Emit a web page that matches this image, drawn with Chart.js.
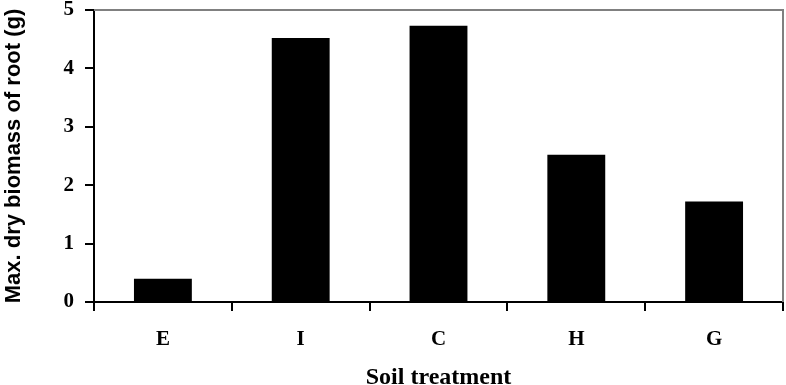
<!DOCTYPE html>
<html><head><meta charset="utf-8">
<script src="https://cdn.jsdelivr.net/npm/chart.js@4/dist/chart.umd.min.js"></script>
<style>html,body{margin:0;padding:0;background:#fff}#wrap{width:786px;height:385px}</style>
</head><body><div id="wrap"><canvas id="c" width="786" height="385"></canvas></div>
<script>
const categories = ['E', 'I', 'C', 'H', 'G'];
const biomass = [0.40, 4.52, 4.73, 2.52, 1.72];
const yTicks = [0, 1, 2, 3, 4, 5];

const frame = {
  id: 'frame',
  afterDraw(chart) {
    const {ctx, chartArea: a} = chart;
    ctx.save();
    ctx.strokeStyle = '#808080';
    ctx.lineWidth = 2;
    ctx.beginPath();
    ctx.moveTo(a.left, a.top);
    ctx.lineTo(a.right, a.top);
    ctx.lineTo(a.right, a.bottom);
    ctx.stroke();
    ctx.restore();
  }
};

new Chart(document.getElementById('c'), {
  type: 'bar',
  data: { labels: categories, datasets: [{ data: biomass, backgroundColor: '#000', borderWidth: 0 }] },
  options: {
    responsive: false, animation: false,
    layout: { padding: { left: 0, top: 10, right: 3, bottom: 0 } },
    plugins: { legend: { display: false }, tooltip: { enabled: false } },
    datasets: { bar: { categoryPercentage: 1, barPercentage: 0.42 } },
    scales: {
      x: {
        grid: { drawOnChartArea: false, drawTicks: true, tickLength: 9, color: '#000', lineWidth: 2, offset: true },
        border: { color: '#000', width: 2 },
        ticks: { color: '#000', padding: 16, font: { family: 'Liberation Serif', weight: 'bold', size: 21 } },
        title: { display: true, text: 'Soil treatment', color: '#000', padding: { top: 0, bottom: -7 },
                 font: { family: 'Liberation Serif', weight: 'bold', size: 24 } },
        afterFit(s) { s.height = 83; s.paddingLeft = 0; s.paddingRight = 0; }
      },
      y: {
        min: 0, max: 5,
        afterBuildTicks(s) { s.ticks = yTicks.map(v => ({ value: v })); },
        grid: { drawOnChartArea: false, drawTicks: true, tickLength: 9, color: '#000', lineWidth: 2 },
        border: { color: '#000', width: 2 },
        ticks: { color: '#000', padding: 11, font: { family: 'Liberation Serif', weight: 'bold', size: 21 } },
        title: { display: true, text: 'Max. dry biomass of root (g)', color: '#000', padding: { top: 1, bottom: 0 },
                 font: { family: 'Liberation Sans', weight: 'bold', size: 22 } },
        afterFit(s) { s.width = 94; s.paddingTop = 0; s.paddingBottom = 0; }
      }
    }
  },
  plugins: [frame]
});
</script></body></html>
